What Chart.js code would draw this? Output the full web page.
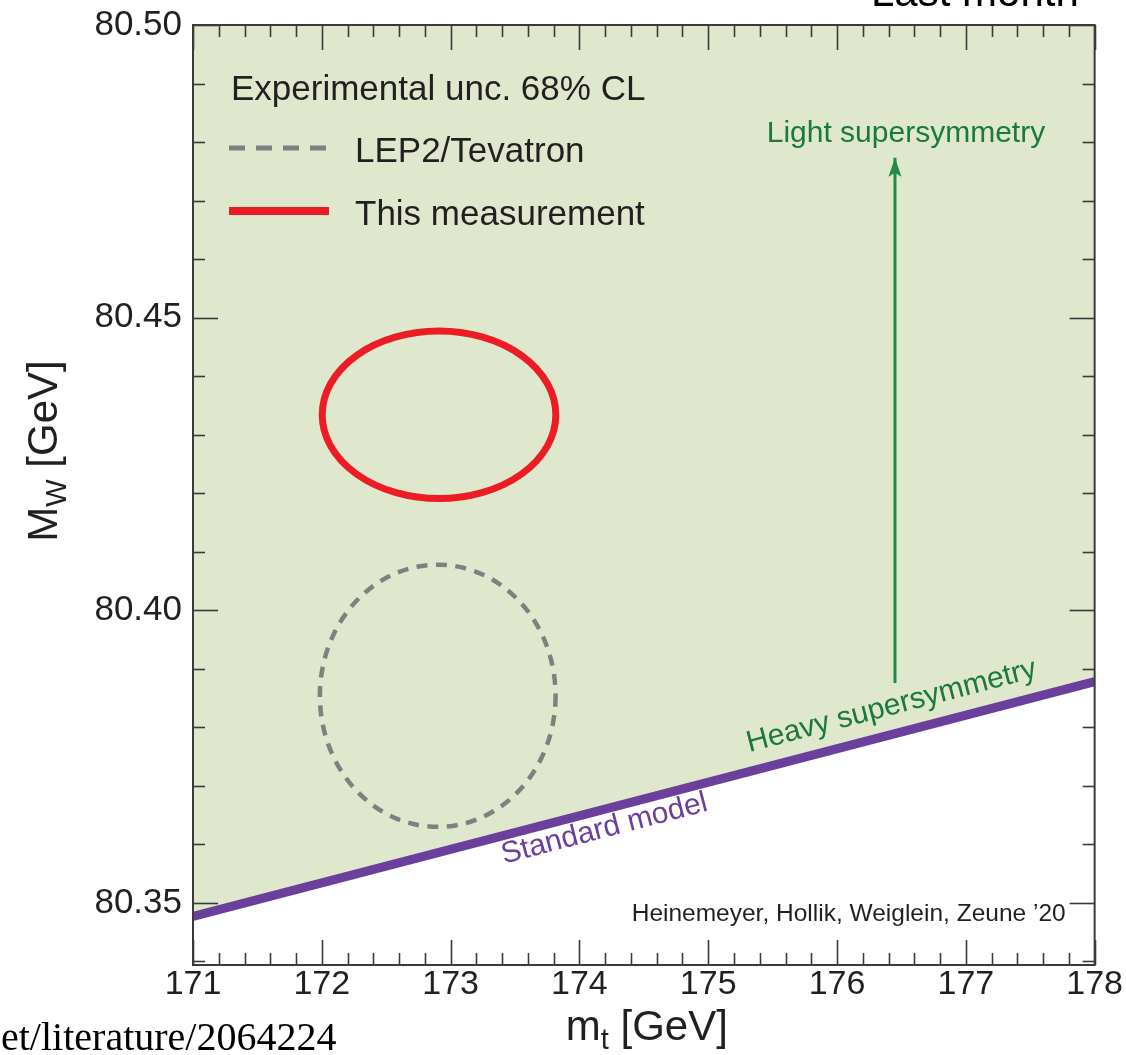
<!DOCTYPE html>
<html><head><meta charset="utf-8">
<style>html,body{margin:0;padding:0;background:#fff;}canvas{display:block;}</style>
<script src="https://cdn.jsdelivr.net/npm/chart.js@4.4.1/dist/chart.umd.min.js"></script>
</head><body>
<canvas id="c" width="1126" height="1055"></canvas>
<script>
// ---- data ----
const xRange = [171, 178];
const yRange = [80.3394, 80.50];
const xTickValues = [171, 172, 173, 174, 175, 176, 177, 178];
const xTickLabels = ['171', '172', '173', '174', '175', '176', '177', '178'];
const yTickValues = [80.35, 80.40, 80.45, 80.50];
const yTickLabels = ['80.35', '80.40', '80.45', '80.50'];

// Standard-model prediction line (m_t, M_W)
const smMt = [171, 178];
const smMw = [80.3477, 80.3878];

// 68% CL ellipses: centre and half-widths
const ellipseNames = ['LEP2/Tevatron', 'This measurement'];
const ellipseMt = [172.90, 172.91];
const ellipseMw = [80.3854, 80.4334];
const ellipseErrMt = [0.915, 0.907];
const ellipseErrMw = [0.0224, 0.0143];

// Arrow towards light supersymmetry
const arrowMt = [176.45, 176.45];
const arrowMw = [80.3876, 80.4773];

// ---- styles ----
const FONT = "'Liberation Sans', Arial, Helvetica, sans-serif";
const GREEN_FILL = '#dfe7cd';
const PURPLE = '#6b3f9c';
const GREEN = '#1b7a3b';
const ARROW_GREEN = '#1f8c45';
const RED = '#ec1c24';
const GRAY = '#808080';
const INK = '#231f20';

const decor = {
  id: 'decor',
  afterDatasetsDraw(chart) {
    const ctx = chart.ctx;
    const xs = chart.scales.x, ys = chart.scales.y;
    const a = chart.chartArea;
    ctx.save();
    ctx.beginPath();
    ctx.rect(a.left, a.top, a.right - a.left, a.bottom - a.top);
    ctx.clip();
    // ellipses
    for (let i = 0; i < ellipseNames.length; i++) {
      const cx = xs.getPixelForValue(ellipseMt[i]);
      const cy = ys.getPixelForValue(ellipseMw[i]);
      const rx = Math.abs(xs.getPixelForValue(ellipseMt[i] + ellipseErrMt[i]) - cx);
      const ry = Math.abs(ys.getPixelForValue(ellipseMw[i] + ellipseErrMw[i]) - cy);
      ctx.beginPath();
      ctx.ellipse(cx, cy, rx, ry, 0, 0, Math.PI * 2);
      if (i === 0) {
        ctx.strokeStyle = GRAY; ctx.lineWidth = 4.5; ctx.setLineDash([11, 8.5]);
      } else {
        ctx.strokeStyle = RED; ctx.lineWidth = 7; ctx.setLineDash([]);
      }
      ctx.stroke();
    }
    ctx.setLineDash([]);
    // arrow head
    const tx = xs.getPixelForValue(arrowMt[1]);
    const ty = ys.getPixelForValue(arrowMw[1]);
    ctx.fillStyle = ARROW_GREEN;
    ctx.beginPath();
    ctx.moveTo(tx, ty);
    ctx.lineTo(tx - 6.5, ty + 19);
    ctx.lineTo(tx, ty + 15);
    ctx.lineTo(tx + 6.5, ty + 19);
    ctx.closePath();
    ctx.fill();

    // rotated labels along SM line
    const x0 = xs.getPixelForValue(smMt[0]), y0 = ys.getPixelForValue(smMw[0]);
    const x1 = xs.getPixelForValue(smMt[1]), y1 = ys.getPixelForValue(smMw[1]);
    const ang = Math.atan2(y1 - y0, x1 - x0);
    ctx.font = '30px ' + FONT;
    ctx.textBaseline = 'alphabetic';
    ctx.textAlign = 'left';
    ctx.save();
    ctx.translate(xs.getPixelForValue(175.318), ys.getPixelForValue(80.3758));
    ctx.rotate(ang);
    ctx.fillStyle = GREEN;
    ctx.fillText('Heavy supersymmetry', 0, 0);
    ctx.restore();
    ctx.save();
    ctx.translate(xs.getPixelForValue(173.403), ys.getPixelForValue(80.3577));
    ctx.rotate(ang);
    ctx.fillStyle = PURPLE;
    ctx.fillText('Standard model', 0, 6);
    ctx.restore();

    ctx.fillStyle = GREEN;
    ctx.textAlign = 'center';
    ctx.fillText('Light supersymmetry', xs.getPixelForValue(176.535), ys.getPixelForValue(80.480));

    // legend
    ctx.fillStyle = INK;
    ctx.textAlign = 'left';
    ctx.font = '35px ' + FONT;
    ctx.fillText('Experimental unc. 68% CL', a.left + 38, a.top + 75);
    ctx.fillText(ellipseNames[0], a.left + 162, a.top + 137);
    ctx.fillText(ellipseNames[1], a.left + 162, a.top + 200);
    ctx.strokeStyle = GRAY; ctx.lineWidth = 5; ctx.setLineDash([16, 11]);
    ctx.beginPath(); ctx.moveTo(a.left + 36, a.top + 123); ctx.lineTo(a.left + 134, a.top + 123); ctx.stroke();
    ctx.setLineDash([]);
    ctx.strokeStyle = RED; ctx.lineWidth = 8;
    ctx.beginPath(); ctx.moveTo(a.left + 36, a.top + 186); ctx.lineTo(a.left + 136, a.top + 186); ctx.stroke();

    // credit
    ctx.font = '24.5px ' + FONT;
    ctx.textAlign = 'right';
    ctx.fillStyle = INK;
    ctx.fillText('Heinemeyer, Hollik, Weiglein, Zeune \u201920', a.right - 29, a.bottom - 44);
    ctx.restore();

    // frame and inward ticks
    ctx.save();
    ctx.strokeStyle = '#3a3a3a';
    ctx.lineWidth = 1.6;
    const tick = (x1, y1, x2, y2) => { ctx.beginPath(); ctx.moveTo(x1, y1); ctx.lineTo(x2, y2); ctx.stroke(); };
    for (let k = 0; k <= 35; k++) {
      const v = xRange[0] + k * 0.2;
      const px = Math.round(xs.getPixelForValue(v)) + 0.5;
      const len = (k % 5 === 0) ? 25 : 12;
      tick(px, a.bottom, px, a.bottom - len);
      tick(px, a.top, px, a.top + len);
    }
    for (let h = 8034; h <= 8050; h++) {
      const v = h / 100;
      if (v < yRange[0] || v > yRange[1]) continue;
      const py = Math.round(ys.getPixelForValue(v)) + 0.5;
      const len = (h % 5 === 0) ? 25 : 12;
      tick(a.left, py, a.left + len, py);
      tick(a.right, py, a.right - len, py);
    }
    ctx.lineWidth = 2;
    ctx.strokeRect(a.left, a.top, a.right - a.left, a.bottom - a.top);
    ctx.restore();
  },
  afterDraw(chart) {
    const ctx = chart.ctx;
    const a = chart.chartArea;
    ctx.save();
    ctx.fillStyle = INK;
    ctx.textBaseline = 'alphabetic';
    const big = '42px ' + FONT, small = '29px ' + FONT;
    const parts = (p1, sub, p2) => {
      ctx.font = big; const w1 = ctx.measureText(p1).width; const w3 = ctx.measureText(p2).width;
      ctx.font = small; const w2 = ctx.measureText(sub).width;
      return [w1, w2, w3];
    };
    // y title: M_W [GeV]
    let [w1, w2, w3] = parts('M', 'W', ' [GeV]');
    let tot = w1 + w2 + w3;
    ctx.save();
    ctx.translate(57, 451);
    ctx.rotate(-Math.PI / 2);
    ctx.textAlign = 'left';
    ctx.font = big; ctx.fillText('M', -tot / 2, 0);
    ctx.font = small; ctx.fillText('W', -tot / 2 + w1, 9);
    ctx.font = big; ctx.fillText(' [GeV]', -tot / 2 + w1 + w2, 0);
    ctx.restore();
    // x title: m_t [GeV]
    [w1, w2, w3] = parts('m', 't', ' [GeV]');
    tot = w1 + w2 + w3;
    const cx = (a.left + a.right) / 2 + 3, by = 1040;
    ctx.textAlign = 'left';
    ctx.font = big; ctx.fillText('m', cx - tot / 2, by);
    ctx.font = small; ctx.fillText('t', cx - tot / 2 + w1, by + 9);
    ctx.font = big; ctx.fillText(' [GeV]', cx - tot / 2 + w1 + w2, by);
    // slide fragments
    ctx.fillStyle = '#000';
    ctx.font = '42px ' + FONT;
    ctx.fillText('Last month', 871, 6);
    ctx.font = "40px 'Liberation Serif', 'Times New Roman', serif";
    ctx.fillText('et/literature/2064224', 1, 1050);
    ctx.restore();
  }
};

const ctx = document.getElementById('c').getContext('2d');
new Chart(ctx, {
  type: 'scatter',
  data: {
    datasets: [
      {
        label: 'Standard model',
        data: smMt.map((x, i) => ({ x, y: smMw[i] })),
        showLine: true, borderColor: PURPLE, borderWidth: 9, pointRadius: 0,
        fill: 'end', backgroundColor: GREEN_FILL, borderCapStyle: 'butt', order: 2
      },
      {
        label: 'Light supersymmetry',
        data: arrowMt.map((x, i) => ({ x, y: arrowMw[i] })),
        showLine: true, borderColor: ARROW_GREEN, borderWidth: 3, pointRadius: 0, fill: false, order: 1
      }
    ]
  },
  options: {
    responsive: false, animation: false, devicePixelRatio: 1,
    layout: { padding: { left: 0, top: 25, right: 30, bottom: 0 } },
    plugins: { legend: { display: false }, tooltip: { enabled: false }, filler: { drawTime: 'beforeDatasetsDraw' } },
    scales: {
      x: {
        type: 'linear', position: 'bottom', min: xRange[0], max: xRange[1],
        afterBuildTicks: s => { s.ticks = xTickValues.map(v => ({ value: v })); },
        afterFit: s => { s.height = 90; },
        grid: { display: false, drawTicks: false }, border: { display: false },
        ticks: { padding: 3, color: INK, font: { family: FONT, size: 34, lineHeight: 1 }, maxRotation: 0, autoSkip: false,
                 callback: (v, i) => xTickLabels[i] }
      },
      y: {
        type: 'linear', position: 'left', min: yRange[0], max: yRange[1],
        afterBuildTicks: s => { s.ticks = yTickValues.map(v => ({ value: v })); },
        afterFit: s => { s.width = 193; },
        grid: { display: false, drawTicks: false }, border: { display: false },
        ticks: { padding: 11, color: INK, font: { family: FONT, size: 35, lineHeight: 0.75 }, autoSkip: false,
                 callback: (v, i) => yTickLabels[i] }
      }
    }
  },
  plugins: [decor]
});
</script>
</body></html>
